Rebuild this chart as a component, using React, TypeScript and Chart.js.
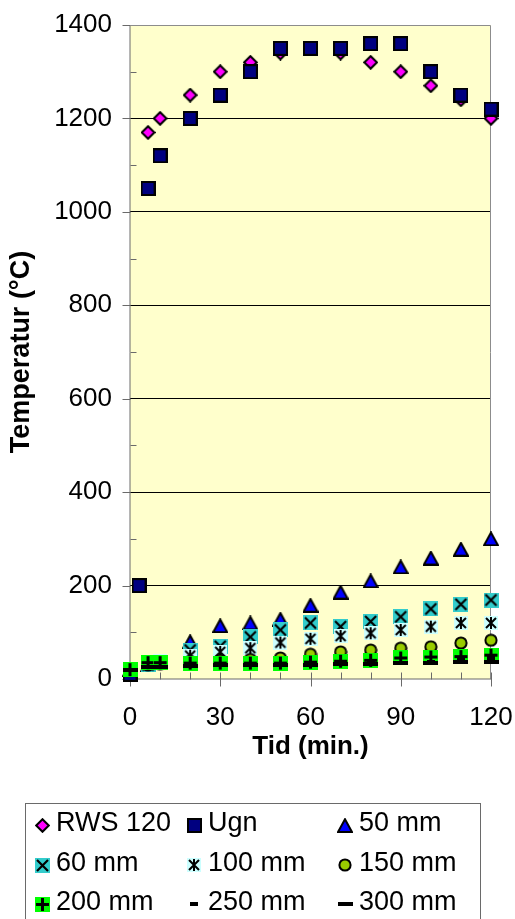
import { useEffect, useRef } from 'react';
import { Chart, registerables } from 'chart.js';

Chart.register(...registerables);

// ---- data ----
const times = [0, 6, 10, 20, 30, 40, 50, 60, 70, 80, 90, 100, 110, 120];
const ugnTimes = [0, 3, 6, 10, 20, 30, 40, 50, 60, 70, 80, 90, 100, 110, 120];
const rws120 = [20, 1170, 1200, 1250, 1300, 1320, 1340, 1350, 1340, 1320, 1300, 1270, 1240, 1200];
const ugn = [10, 200, 1050, 1120, 1200, 1250, 1300, 1350, 1350, 1350, 1360, 1360, 1300, 1250, 1220];
const mm50 = [20, 30, 35, 80, 114, 120, 128, 158, 186, 210, 240, 259, 278, 300];
const mm60 = [20, 30, 35, 62, 70, 90, 105, 120, 112, 123, 133, 150, 160, 169];
const mm100 = [20, 35, 38, 50, 58, 66, 78, 86, 92, 98, 105, 112, 120, 120];
const mm150 = [20, 30, 32, 38, 40, 42, 45, 53, 58, 62, 66, 69, 77, 83];
const mm200 = [20, 35, 35, 34, 34, 34, 34, 36, 38, 40, 45, 47, 48, 51];
const mm250 = [20, 25, 25, 28, 30, 30, 31, 32, 33, 34, 35, 37, 40, 45];
const mm300 = [20, 25, 25, 28, 29, 30, 30, 31, 32, 33, 34, 35, 36, 37];
const seriesLabels = ['RWS 120', 'Ugn', '50 mm', '60 mm', '100 mm', '150 mm', '200 mm', '250 mm', '300 mm'];
const yTitle = 'Temperatur (°C)';
const xTitle = 'Tid (min.)';

const FONT = '"Liberation Sans", Arial, sans-serif';

function mk(w: number, h: number, draw: (c: CanvasRenderingContext2D) => void) {
  const c = document.createElement('canvas');
  c.width = w;
  c.height = h;
  const x = c.getContext('2d')!;
  draw(x);
  return c;
}

function makeMarkers() {
  const diamond = mk(15, 15, (c) => {
    c.beginPath();
    c.moveTo(7.5, 1.2); c.lineTo(13.8, 7.5); c.lineTo(7.5, 13.8); c.lineTo(1.2, 7.5); c.closePath();
    c.fillStyle = '#FF00FF'; c.fill();
    c.lineWidth = 2; c.strokeStyle = '#000'; c.stroke();
  });
  const square = mk(15, 15, (c) => {
    c.fillStyle = '#000080'; c.fillRect(1, 1, 13, 13);
    c.lineWidth = 2; c.strokeStyle = '#000'; c.strokeRect(1, 1, 13, 13);
  });
  const tri = mk(16, 15, (c) => {
    c.beginPath();
    c.moveTo(8, 1.2); c.lineTo(15, 14); c.lineTo(1, 14); c.closePath();
    c.fillStyle = '#0000FF'; c.fill();
    c.lineWidth = 2; c.lineJoin = 'miter'; c.strokeStyle = '#000'; c.stroke();
  });
  const xsq = mk(15, 15, (c) => {
    c.fillStyle = '#33CCCC'; c.fillRect(0, 0, 15, 15);
    c.strokeStyle = '#000'; c.lineWidth = 2.2;
    c.beginPath(); c.moveTo(2, 2); c.lineTo(13, 13); c.moveTo(13, 2); c.lineTo(2, 13); c.stroke();
  });
  const star = mk(14, 14, (c) => {
    c.fillStyle = '#CCFFFF'; c.fillRect(0, 0, 14, 14);
    c.strokeStyle = '#000'; c.lineWidth = 2;
    c.beginPath(); c.moveTo(2, 2); c.lineTo(12, 12); c.moveTo(12, 2); c.lineTo(2, 12);
    c.moveTo(7, 1); c.lineTo(7, 13); c.stroke();
  });
  const circ = mk(14, 14, (c) => {
    c.beginPath(); c.arc(7, 7, 5.6, 0, Math.PI * 2);
    c.fillStyle = '#99CC00'; c.fill();
    c.lineWidth = 2; c.strokeStyle = '#000'; c.stroke();
  });
  const plus = mk(15, 15, (c) => {
    c.fillStyle = '#00FF00'; c.fillRect(0, 0, 15, 15);
    c.fillStyle = '#000'; c.fillRect(6, 1, 3, 13); c.fillRect(1, 6, 13, 3);
  });
  const dashS = mk(8, 4, (c) => { c.fillStyle = '#000'; c.fillRect(0, 0, 8, 4); });
  const dashL = mk(15, 4, (c) => { c.fillStyle = '#000'; c.fillRect(0, 0, 15, 4); });
  return [diamond, square, tri, xsq, star, circ, plus, dashS, dashL];
}

function noPad(s: any) {
  s.paddingTop = 0;
  s.paddingBottom = 0;
  s.paddingLeft = 0;
  s.paddingRight = 0;
}

export default function App() {
  const ref = useRef<HTMLCanvasElement>(null);

  useEffect(() => {
    if (!ref.current) return;
    const markers = makeMarkers();
    const valuesList = [rws120, ugn, mm50, mm60, mm100, mm150, mm200, mm250, mm300];
    const datasets = seriesLabels.map((label, i) => {
      const xs = i === 1 ? ugnTimes : times;
      const ys = valuesList[i];
      return {
        label,
        data: ys.map((v, k) => ({ x: xs[k], y: v })),
        pointStyle: markers[i] as any,
        showLine: false,
        clip: false as any,
        order: 20 - i,
        pointRadius: 7,
        pointHoverRadius: 7,
      };
    });

    const deco = {
      id: 'deco',
      beforeDraw(chart: any) {
        const { ctx, chartArea: a } = chart;
        ctx.save();
        ctx.fillStyle = '#FFFFCC';
        ctx.fillRect(a.left, a.top, a.right - a.left, a.bottom - a.top);
        ctx.restore();
      },
      beforeDatasetsDraw(chart: any) {
        const { ctx, chartArea: a, scales } = chart;
        const xs = scales.x;
        const ys = scales.y;
        const L = Math.round(a.left) + 0.5;
        const R = Math.round(a.right) - 0.5;
        const T = Math.round(a.top) + 0.5;
        const B = Math.round(a.bottom) + 0.5;
        ctx.save();
        ctx.lineWidth = 1;
        // plot border (top, right)
        ctx.strokeStyle = '#8C8C8C';
        ctx.beginPath();
        ctx.moveTo(L, T); ctx.lineTo(R, T); ctx.lineTo(R, B);
        ctx.stroke();
        // axes
        ctx.strokeStyle = '#6A6A6A';
        ctx.beginPath();
        ctx.moveTo(L - 0.5, T); ctx.lineTo(L - 0.5, B);
        ctx.moveTo(L, B - 0.5); ctx.lineTo(R, B - 0.5);
        ctx.stroke();
        ctx.beginPath();
        for (let v = 0; v <= 1400; v += 100) {
          const py = Math.round(ys.getPixelForValue(v)) + 0.5;
          if (v % 200 === 0) { ctx.moveTo(L - 8, py); ctx.lineTo(L, py); }
          else { ctx.moveTo(L, py); ctx.lineTo(L + 6, py); }
        }
        for (let t = 0; t <= 120; t += 10) {
          const px = Math.round(xs.getPixelForValue(t)) + 0.5;
          if (t % 30 === 0) { ctx.moveTo(px, B - 7); ctx.lineTo(px, B + 7); }
          else { ctx.moveTo(px, B - 7); ctx.lineTo(px, B); }
        }
        ctx.stroke();
        ctx.restore();
      },
      afterDraw(chart: any) {
        const { ctx } = chart;
        ctx.save();
        ctx.strokeStyle = '#6A6A6A';
        ctx.lineWidth = 1;
        ctx.strokeRect(25.5, 803.5, 455, 140);
        const colMarker = [42, 194, 345];
        const colText = [56, 208, 359];
        const rows = [824, 864, 903];
        ctx.font = '27px ' + FONT;
        ctx.fillStyle = '#000';
        ctx.textBaseline = 'middle';
        ctx.textAlign = 'left';
        seriesLabels.forEach((lab, i) => {
          const r = Math.floor(i / 3);
          const c = i % 3;
          const m = markers[i];
          ctx.drawImage(m, Math.round(colMarker[c] - m.width / 2), Math.round(rows[r] + 1 - m.height / 2));
          ctx.fillText(lab, colText[c], rows[r]);
        });
        ctx.restore();
      },
    };

    const chart = new Chart(ref.current, {
      type: 'scatter',
      data: { datasets } as any,
      options: {
        animation: false,
        responsive: false,
        events: [],
        layout: { padding: { left: 0, top: 25, right: 24, bottom: 140 } },
        plugins: { legend: { display: false }, tooltip: { enabled: false } },
        scales: {
          x: {
            type: 'linear',
            min: 0,
            max: 120,
            afterFit: (s: any) => { s.height = 100; noPad(s); },
            ticks: { stepSize: 30, color: '#000', padding: 23, font: { size: 26, family: FONT }, callback: (v: any) => String(v) },
            grid: { display: false, drawTicks: false },
            border: { display: false },
            title: { display: true, text: xTitle, color: '#000', font: { size: 26, weight: 'bold', family: FONT }, padding: { top: 0, bottom: 17 } },
          },
          y: {
            type: 'linear',
            min: 0,
            max: 1400,
            afterFit: (s: any) => { s.width = 130; noPad(s); },
            ticks: { stepSize: 200, color: '#000', padding: 18, font: { size: 26, family: FONT }, callback: (v: any) => String(v) },
            grid: {
              drawTicks: false,
              color: (c: any) => (c.tick && c.tick.value > 0 && c.tick.value < 1400 ? '#000' : 'rgba(0,0,0,0)'),
              lineWidth: 1,
            },
            border: { display: false },
            title: { display: true, text: yTitle, color: '#000', font: { size: 27, weight: 'bold', family: FONT }, padding: { top: 5, bottom: 0 } },
          },
        },
      } as any,
      plugins: [deco],
    });
    return () => chart.destroy();
  }, []);

  return (
    <div style={{ position: 'absolute', left: 0, top: 0, width: 515, height: 919, background: '#fff' }}>
      <canvas ref={ref} width={515} height={919} style={{ display: 'block' }} />
    </div>
  );
}
